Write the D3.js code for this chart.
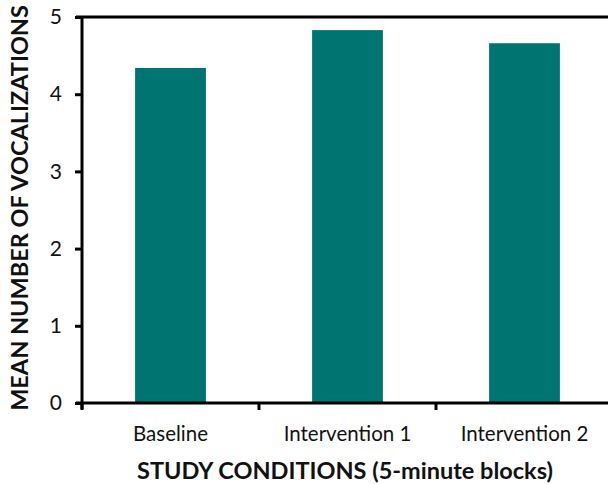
<!DOCTYPE html>
<html><head><meta charset="utf-8">
<script src="https://cdn.jsdelivr.net/npm/d3@7"></script>
<style>body{margin:0;background:#fff}svg{display:block}text{font-family:Lato,"Open Sans",sans-serif;fill:#111}</style>
</head><body>
<script>
const categories = ["Baseline", "Intervention 1", "Intervention 2"];
const values = [4.34, 4.83, 4.66];
const yTicks = [0, 1, 2, 3, 4, 5];
const xTitle = "STUDY CONDITIONS (5-minute blocks)";
const yTitle = "MEAN NUMBER OF VOCALIZATIONS";

const W = 608, H = 484;
const svg = d3.select("body").append("svg").attr("width", W).attr("height", H);
const x0 = 82, x1 = 613, yTop = 17, yBot = 403;
const x = d3.scaleBand().domain(categories).range([x0, x1]).paddingInner(0.6).paddingOuter(0.3);
const y = d3.scaleLinear().domain([0, 5]).range([yBot, yTop]);
const color = "#007470";

svg.selectAll("rect.bar").data(values).join("rect").attr("class", "bar")
  .attr("x", (d, i) => x(categories[i])).attr("width", x.bandwidth())
  .attr("y", d => y(d)).attr("height", d => y(0) - y(d)).attr("fill", color);

// top line at max
svg.append("line").attr("x1", x0 - 6).attr("x2", x1).attr("y1", y(5)).attr("y2", y(5))
  .attr("stroke", "#000").attr("stroke-width", 3);

// y axis
const ya = svg.append("g").attr("transform", `translate(${x0},0)`)
  .call(d3.axisLeft(y).tickValues(yTicks).tickSize(7).tickPadding(13).tickFormat(d3.format("d")));
ya.select(".domain").attr("stroke", "#000").attr("stroke-width", 3).attr("d", `M0,${yTop}V${yBot + 6}`);
ya.selectAll(".tick line").attr("stroke", "#000").attr("stroke-width", 3);
ya.selectAll(".tick text").style("font-size", "21px").attr("fill", "#111").attr("font-family", "Lato");

// x axis
const step = x.step();
const bounds = [x0, x0 + step, x0 + 2 * step, x0 + 3 * step];
svg.append("line").attr("x1", x0 - 6).attr("x2", x1).attr("y1", yBot).attr("y2", yBot)
  .attr("stroke", "#000").attr("stroke-width", 3);
svg.selectAll("line.xt").data(bounds).join("line").attr("class", "xt")
  .attr("x1", d => d).attr("x2", d => d).attr("y1", yBot).attr("y2", yBot + 7)
  .attr("stroke", "#000").attr("stroke-width", 3);
svg.selectAll("text.xl").data(categories).join("text").attr("class", "xl")
  .attr("x", d => x(d) + x.bandwidth() / 2).attr("y", 441)
  .attr("text-anchor", "middle").style("font-size", "20.5px").text(d => d);

svg.append("text").attr("x", 345).attr("y", 479).attr("text-anchor", "middle")
  .style("font-size", "23.5px").style("font-weight", "bold").text(xTitle);
svg.append("text").attr("transform", `translate(28,${(yTop + yBot) / 2 - 2}) rotate(-90)`)
  .attr("text-anchor", "middle").style("font-size", "23.5px").style("font-weight", "bold").text(yTitle);
</script>
</body></html>
